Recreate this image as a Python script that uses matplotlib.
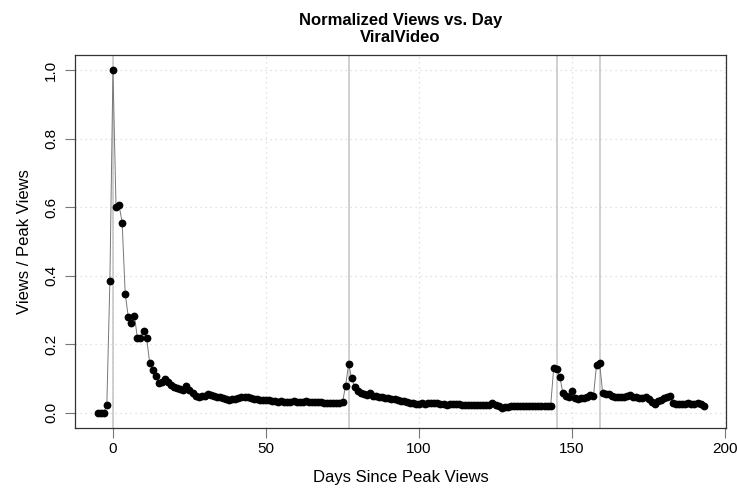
import matplotlib
matplotlib.use("Agg")
import matplotlib.pyplot as plt
import numpy as np

plt.rcParams['font.family'] = ['Liberation Sans', 'DejaVu Sans']

# days since the peak, -5 .. 193
days = list(range(-5, 194))

views = [
    0.0, 0.0, 0.0, 0.022, 0.385,                                   # -5 .. -1
    1.0, 0.602, 0.606, 0.555, 0.348, 0.281, 0.261, 0.284, 0.218, 0.219,  # 0 .. 9
    0.239, 0.218, 0.146, 0.125, 0.108, 0.087, 0.091, 0.100, 0.090, 0.082,  # 10 .. 19
    0.077, 0.074, 0.070, 0.067, 0.079, 0.067, 0.057, 0.050, 0.047, 0.048,  # 20 .. 29
    0.050, 0.055, 0.051, 0.050, 0.047, 0.045, 0.043, 0.040, 0.038, 0.040,  # 30 .. 39
    0.041, 0.043, 0.045, 0.046, 0.045, 0.043, 0.042, 0.040, 0.039, 0.038,  # 40 .. 49
    0.038, 0.037, 0.035, 0.034, 0.032, 0.034, 0.033, 0.032, 0.033, 0.034,  # 50 .. 59
    0.033, 0.032, 0.033, 0.034, 0.033, 0.032, 0.033, 0.032, 0.031, 0.030,  # 60 .. 69
    0.030, 0.029, 0.030, 0.029, 0.030, 0.031, 0.079, 0.142, 0.101, 0.075,  # 70 .. 79
    0.065, 0.058, 0.054, 0.051, 0.059, 0.050, 0.048, 0.047, 0.045, 0.044,  # 80 .. 89
    0.043, 0.042, 0.040, 0.038, 0.036, 0.034, 0.032, 0.030, 0.028, 0.026,  # 90 .. 99
    0.027, 0.028, 0.027, 0.028, 0.028, 0.029, 0.029, 0.027, 0.025, 0.024,  # 100 .. 109
    0.025, 0.026, 0.027, 0.025, 0.024, 0.024, 0.023, 0.024, 0.024, 0.023,  # 110 .. 119
    0.024, 0.023, 0.023, 0.022, 0.030, 0.024, 0.019, 0.015, 0.016, 0.017,  # 120 .. 129
    0.019, 0.020, 0.019, 0.019, 0.020, 0.021, 0.020, 0.019, 0.020, 0.021,  # 130 .. 139
    0.021, 0.020, 0.021, 0.020, 0.130, 0.127, 0.106, 0.057, 0.050, 0.047,  # 140 .. 149
    0.064, 0.044, 0.042, 0.043, 0.044, 0.047, 0.052, 0.050, 0.140, 0.145,  # 150 .. 159
    0.059, 0.056, 0.054, 0.050, 0.047, 0.045, 0.046, 0.047, 0.050, 0.053,  # 160 .. 169
    0.047, 0.045, 0.044, 0.043, 0.045, 0.040, 0.032, 0.026, 0.034, 0.039,  # 170 .. 179
    0.043, 0.046, 0.050, 0.030, 0.027, 0.026, 0.025, 0.027, 0.030, 0.027,  # 180 .. 189
    0.025, 0.030, 0.026, 0.021,                                     # 190 .. 193
]

# days marked with vertical reference lines
event_days = [0, 77, 145, 159]

x_ticks = [0, 50, 100, 150, 200]
y_ticks = [0.0, 0.2, 0.4, 0.6, 0.8, 1.0]

fig = plt.figure(figsize=(7.37, 4.95), dpi=100)
ax = fig.add_axes([75 / 737, 1 - 428 / 495, 651 / 737, 373 / 495])

ax.set_xlim(-12.4, 200.3)
ax.set_ylim(-0.044, 1.044)

# dotted grid
for xt in x_ticks:
    ax.axvline(xt, color='#d8d8d8', lw=0.9, ls=(0, (1, 3)), zorder=0)
for yt in y_ticks:
    ax.axhline(yt, color='#d8d8d8', lw=0.9, ls=(0, (1, 3)), zorder=0)

for d in event_days:
    ax.axvline(d, color='#c8c8c8', lw=1.2, zorder=1)

ax.plot(days, views, color='#777777', lw=0.7, zorder=2)
ax.plot(days, views, 'o', color='black', ms=4.6, zorder=3)

ax.set_xticks(x_ticks)
ax.set_yticks(y_ticks)
ax.set_xticklabels([str(t) for t in x_ticks], fontsize=11)
ax.set_yticklabels(['%.1f' % t for t in y_ticks], fontsize=11, rotation=90, va='center')
ax.tick_params(axis='x', length=7, width=0.8, color='#777777', pad=3)
ax.tick_params(axis='y', length=7, width=0.8, color='#777777', pad=5)

for sp in ax.spines.values():
    sp.set_linewidth(0.9)
    sp.set_color('#333333')

ax.set_xlabel('Days Since Peak Views', fontsize=12, labelpad=10)
ax.set_ylabel('Views / Peak Views', fontsize=12, labelpad=9)
ax.set_title('Normalized Views vs. Day\nViralVideo', fontsize=12, fontweight='bold',
             pad=9, linespacing=1.25)

fig.savefig('out.png', dpi=100)
